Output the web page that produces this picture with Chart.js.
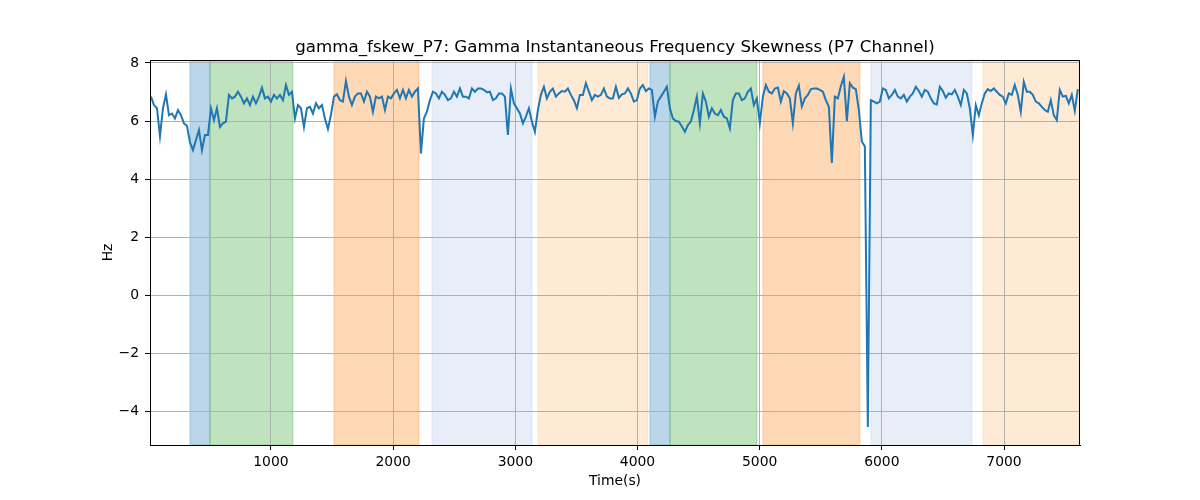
<!DOCTYPE html>
<html>
<head>
<meta charset="utf-8">
<script src="https://cdn.jsdelivr.net/npm/chart.js@4.4.1/dist/chart.umd.min.js"></script>
<style>
  body { margin: 0; background: #fff; }
</style>
</head>
<body>
<canvas id="myChart" width="1200" height="500"></canvas>
<script>
// time grid of the recording (seconds)
const sampleStart = 18;
const sampleStep = 24.55;

// gamma instantaneous frequency skewness, P7 (Hz)
const skew = [
  6.84, 6.55, 6.44, 5.48, 6.44, 6.92, 6.2, 6.26, 6.09, 6.38,
  6.2, 5.92, 5.84, 5.27, 5.0, 5.35, 5.69, 5.0, 5.52, 5.52,
  6.44, 6.03, 6.44, 5.8, 5.92, 5.98, 6.9, 6.78, 6.84, 7.01,
  6.84, 6.61, 6.78, 6.55, 6.84, 6.61, 6.84, 7.15, 6.78, 6.84,
  6.67, 6.9, 6.78, 6.9, 6.72, 7.24, 6.9, 7.01, 6.09, 6.55,
  6.44, 5.8, 6.44,
  6.49, 6.26, 6.61, 6.44, 6.55, 6.09, 5.73, 6.21, 6.84, 6.92,
  6.72, 6.67, 7.38, 6.84, 6.55, 6.84, 6.95, 6.95, 6.67, 7.01,
  6.84, 6.32, 6.84, 6.78, 6.84, 6.38, 6.84, 6.78, 6.95, 7.07,
  6.78, 7.07, 6.78, 7.07, 6.84, 7.01, 7.12, 4.89, 6.09, 6.32,
  6.72, 7.01, 6.95, 6.78, 7.01, 6.9, 6.72, 6.78, 7.01, 6.84,
  7.12, 6.84,
  6.84, 6.78, 7.12, 7.01, 7.12, 7.12, 7.07, 6.99, 7.01, 6.72,
  6.78, 6.95, 6.95, 6.84, 5.52, 7.12, 6.61, 6.44, 6.26, 5.92,
  6.15, 6.44, 5.98, 5.63, 6.38, 6.9, 7.18, 6.78, 7.01, 7.12,
  6.84, 6.95, 7.03, 7.01, 7.12, 6.9, 6.72, 6.44, 6.9, 6.9,
  7.3, 7.01, 6.72, 6.9, 6.84, 6.9, 7.12, 6.84, 6.78, 6.78,
  7.18, 6.8,
  6.92, 6.95, 7.12, 6.95, 6.67, 6.72, 7.12, 7.24, 7.03, 7.12,
  7.07, 6.15, 6.67, 6.84, 7.01, 7.18, 6.44, 6.09, 6.0, 5.98,
  5.81, 5.63, 5.86, 5.98, 6.38, 6.84, 5.92, 6.95, 6.67, 6.15,
  6.44, 6.26, 6.2, 6.38, 6.15, 6.09, 5.75, 6.72, 6.95, 6.95,
  6.72, 6.78, 7.01, 7.12, 6.55, 6.78, 5.92, 6.84, 7.24, 7.01,
  6.95, 7.12,
  7.15, 6.67, 7.03, 6.95, 6.78, 5.92, 6.95, 7.22, 6.5, 6.78,
  6.9, 7.1, 7.12, 7.12, 7.07, 7.01, 6.72, 6.49, 4.56, 6.84,
  6.78, 7.2, 7.52, 6.0, 7.3, 7.15, 7.1, 6.38, 5.3, 5.13,
  -4.52, 6.72, 6.67, 6.61, 6.67, 7.12, 7.07, 6.78, 6.9, 7.07,
  6.84, 6.78, 6.9, 6.67, 6.84, 6.95, 7.18, 7.03, 6.84, 7.07,
  7.01,
  6.78, 6.61, 6.57, 7.18, 7.03, 6.8, 6.95, 6.92, 7.07, 6.84,
  6.55, 7.07, 6.95, 6.44, 5.52, 6.55, 6.2, 6.61, 6.95, 7.1,
  7.03, 7.12, 7.01, 6.9, 6.84, 6.61, 6.95, 6.9, 7.24, 6.9,
  6.32, 7.35, 7.01, 7.01, 6.9, 6.67, 6.61, 6.49, 6.38, 6.32,
  6.72, 6.2, 6.03, 7.07, 6.84, 6.87, 6.61, 6.9, 6.35, 7.1
];

// shaded stages
const spanStart = [337, 501, 1516, 2318, 3186, 4102, 4266, 5027, 5911, 6828];
const spanEnd   = [501, 1180, 2212, 3137, 4086, 4266, 4978, 5821, 6738, 7622];
const spanColor = [
  'rgba(31,119,180,0.3)', 'rgba(44,160,44,0.3)', 'rgba(255,127,14,0.3)',
  'rgba(174,199,232,0.3)', 'rgba(255,187,120,0.3)',
  'rgba(31,119,180,0.3)', 'rgba(44,160,44,0.3)', 'rgba(255,127,14,0.3)',
  'rgba(174,199,232,0.3)', 'rgba(255,187,120,0.3)'
];

const xTicks = [1000, 2000, 3000, 4000, 5000, 6000, 7000];
const yTicks = [-4, -2, 0, 2, 4, 6, 8];
const xMin = 10, xMax = 7622;
const yMin = -5.14, yMax = 8.1;

const titleText = 'gamma_fskew_P7: Gamma Instantaneous Frequency Skewness (P7 Channel)';
const xLabel = 'Time(s)';
const yLabel = 'Hz';

const FONT = '"DejaVu Sans", sans-serif';

const points = skew.map((v, i) => ({ x: sampleStart + i * sampleStep, y: v }));

const spansPlugin = {
  id: 'spans',
  beforeDraw(chart) {
    const { ctx, chartArea, scales } = chart;
    ctx.save();
    ctx.beginPath();
    ctx.rect(chartArea.left, chartArea.top, chartArea.right - chartArea.left, chartArea.bottom - chartArea.top);
    ctx.clip();
    for (let i = 0; i < spanStart.length; i++) {
      const x0 = scales.x.getPixelForValue(spanStart[i]);
      const x1 = scales.x.getPixelForValue(spanEnd[i]);
      ctx.fillStyle = spanColor[i];
      ctx.fillRect(x0, chartArea.top, x1 - x0, chartArea.bottom - chartArea.top);
      ctx.strokeStyle = spanColor[i];
      ctx.lineWidth = 1;
      ctx.strokeRect(x0, chartArea.top, x1 - x0, chartArea.bottom - chartArea.top);
    }
    ctx.restore();
  }
};

const frameAndTextPlugin = {
  id: 'frameText',
  afterDraw(chart) {
    const { ctx, chartArea } = chart;
    ctx.save();
    ctx.strokeStyle = '#000';
    ctx.lineWidth = 1;
    ctx.strokeRect(chartArea.left + 0.5, chartArea.top + 0.5,
      chartArea.right - chartArea.left - 1, chartArea.bottom - chartArea.top);

    ctx.fillStyle = '#000';
    ctx.textAlign = 'center';
    ctx.font = '16.67px ' + FONT;
    ctx.textBaseline = 'alphabetic';
    const cx = (chartArea.left + chartArea.right) / 2;
    ctx.fillText(titleText, cx, chartArea.top - 8);

    ctx.font = '13.9px ' + FONT;
    ctx.textBaseline = 'middle';
    ctx.fillText(xLabel, cx, 481);

    ctx.translate(108, (chartArea.top + chartArea.bottom) / 2);
    ctx.rotate(-Math.PI / 2);
    ctx.fillText(yLabel, 0, 0);
    ctx.restore();
  }
};

const minus = v => String(v).replace('-', '\u2212');

new Chart(document.getElementById('myChart'), {
  type: 'line',
  data: {
    datasets: [{
      data: points,
      borderColor: '#1f77b4',
      borderWidth: 2,
      pointRadius: 0,
      tension: 0,
      fill: false
    }]
  },
  options: {
    responsive: false,
    animation: false,
    layout: { padding: { top: 60, right: 120, left: 0, bottom: 0 } },
    plugins: {
      legend: { display: false },
      tooltip: { enabled: false },
      title: { display: false }
    },
    scales: {
      x: {
        type: 'linear',
        min: xMin,
        max: xMax,
        afterBuildTicks: s => { s.ticks = xTicks.map(v => ({ value: v })); },
        afterFit: s => { s.height = 55; },
        ticks: {
          color: '#000',
          font: { family: FONT, size: 13.9 },
          padding: 4,
          maxRotation: 0,
          autoSkip: false,
          callback: v => minus(v)
        },
        grid: { color: '#b0b0b0', lineWidth: 1, tickColor: '#000', tickLength: 5 },
        border: { display: true, color: '#000' }
      },
      y: {
        type: 'linear',
        min: yMin,
        max: yMax,
        afterBuildTicks: s => { s.ticks = yTicks.map(v => ({ value: v })); },
        afterFit: s => { s.width = 150; },
        ticks: {
          color: '#000',
          font: { family: FONT, size: 13.9 },
          padding: 6,
          autoSkip: false,
          callback: v => minus(v)
        },
        grid: { color: '#b0b0b0', lineWidth: 1, tickColor: '#000', tickLength: 5 },
        border: { display: true, color: '#000' }
      }
    }
  },
  plugins: [spansPlugin, frameAndTextPlugin]
});
</script>
</body>
</html>
